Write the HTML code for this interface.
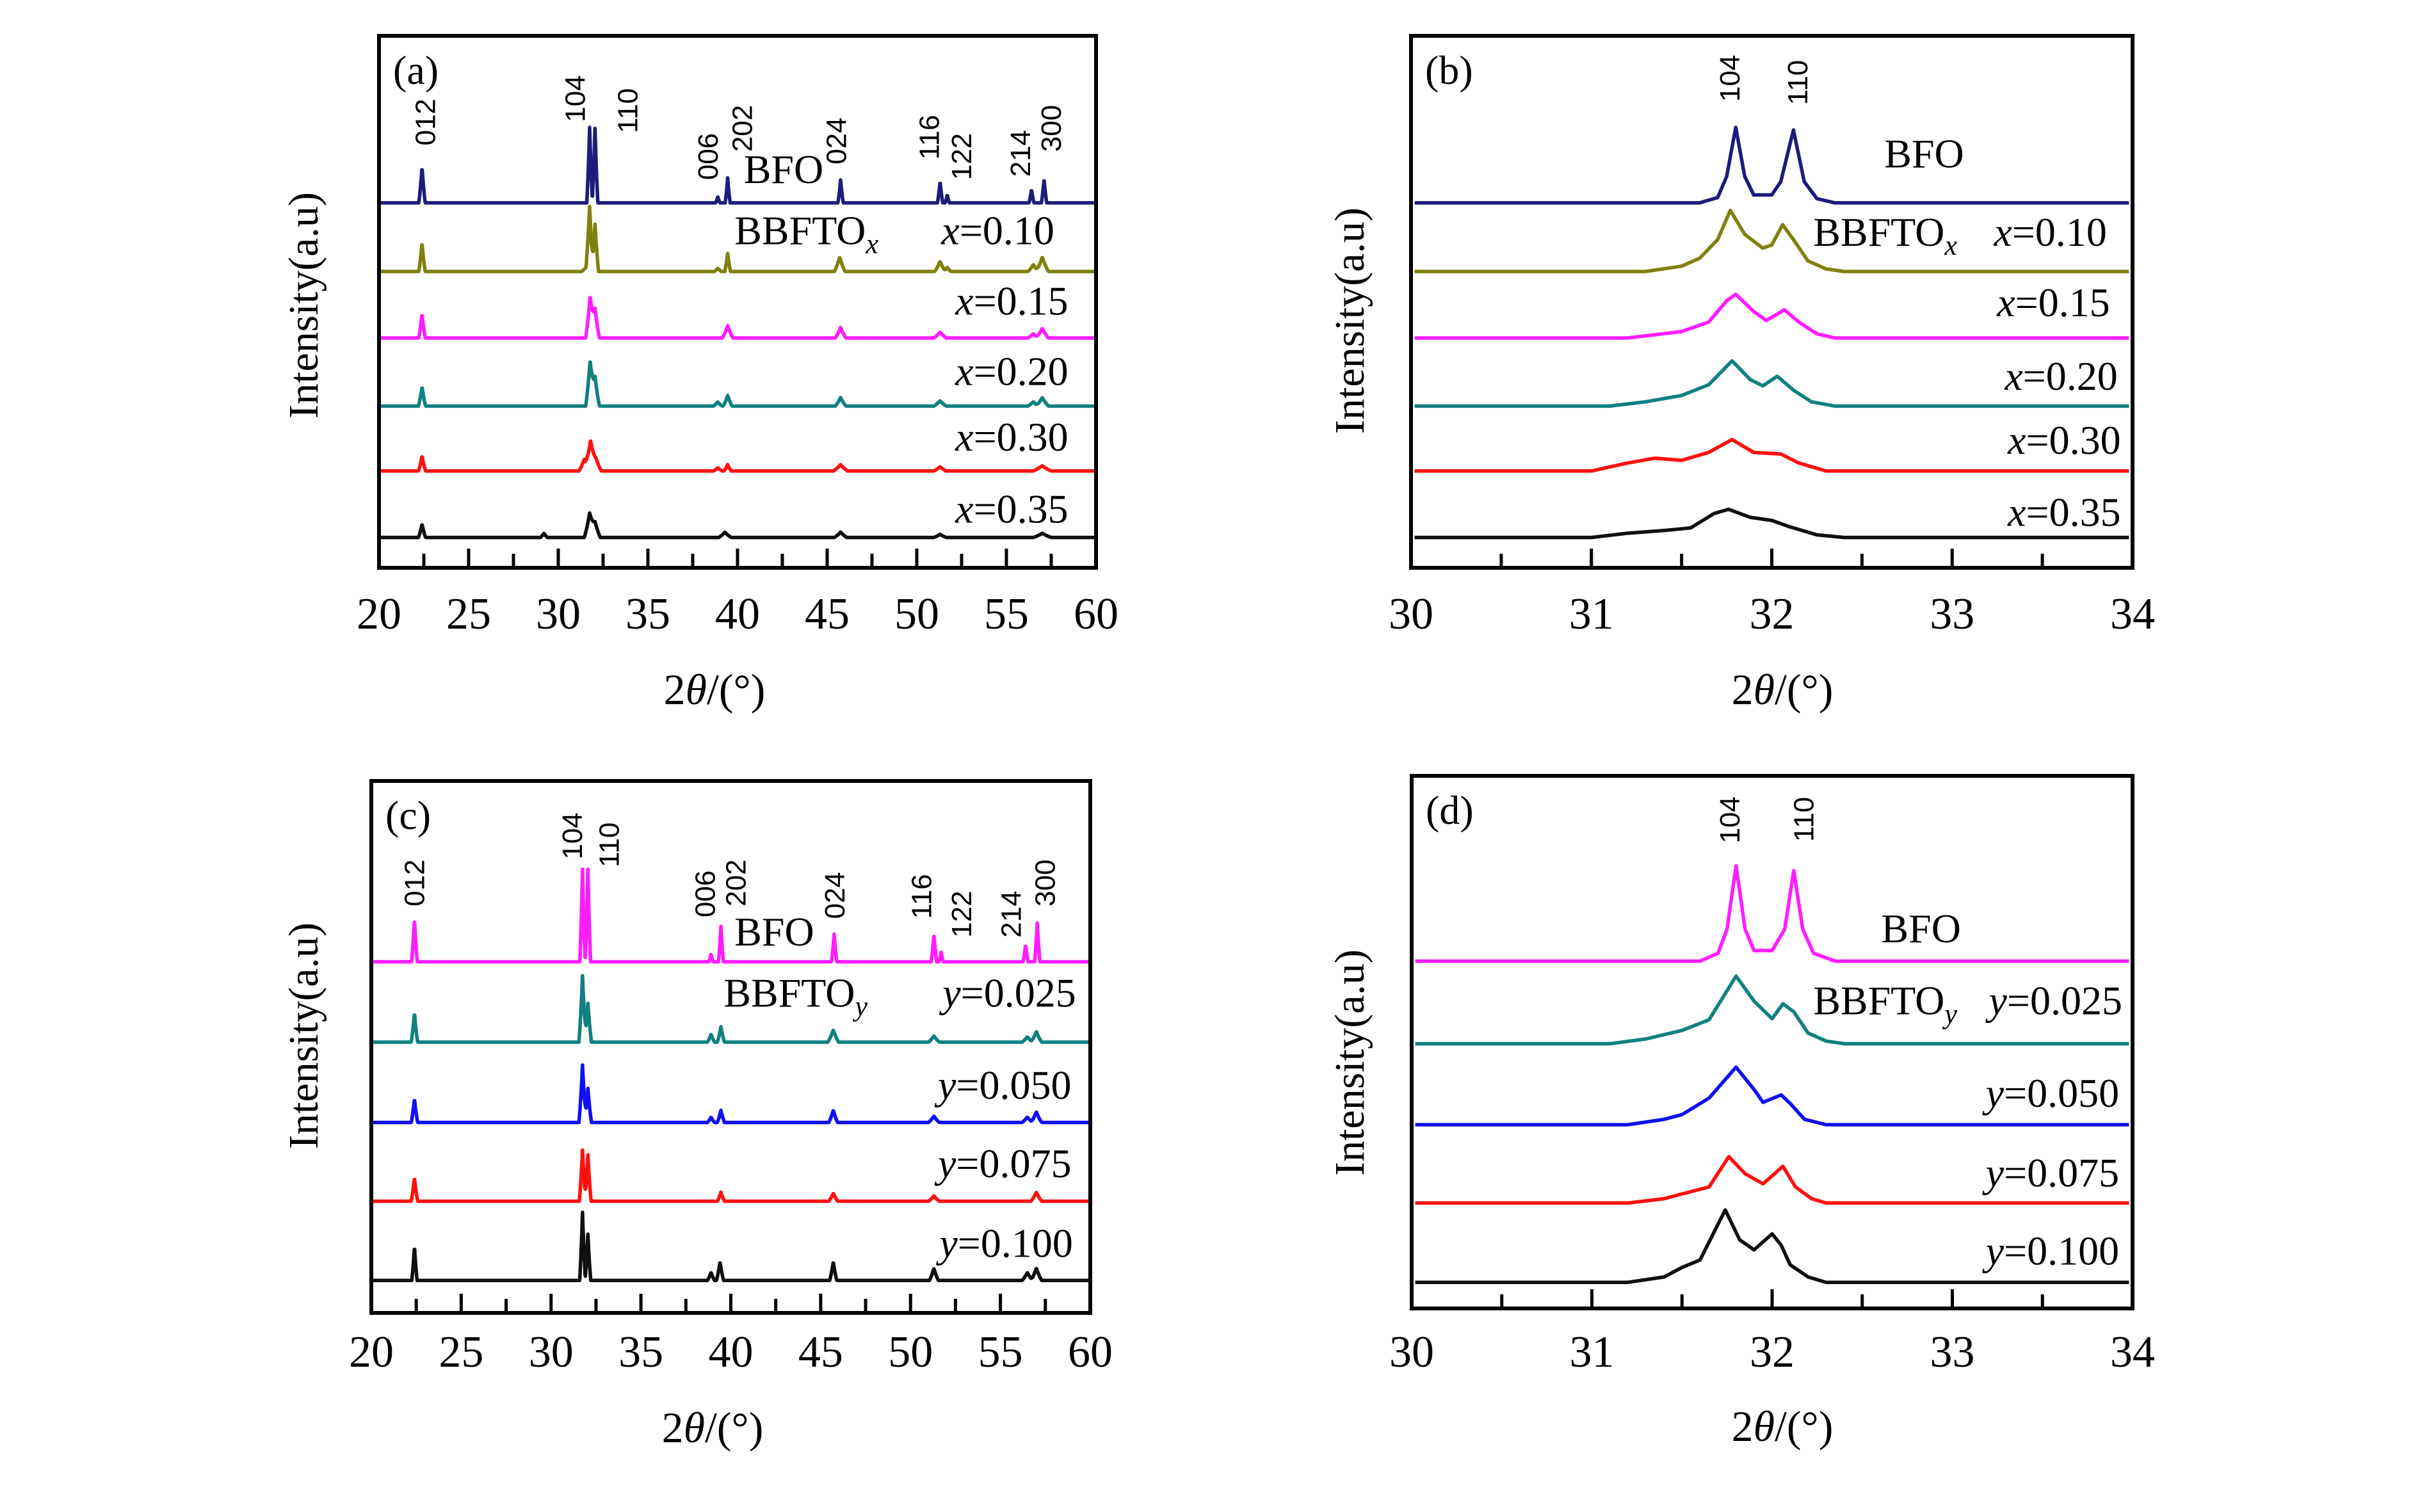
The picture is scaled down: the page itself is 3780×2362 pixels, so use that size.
<!DOCTYPE html>
<html><head><meta charset="utf-8"><style>
html,body{margin:0;padding:0;background:#fff;}
svg{display:block;}
text{font-family:"Liberation Serif",serif;fill:#000;}
.pk{font-family:"Liberation Sans",sans-serif;font-size:44px;}
</style></head><body>
<svg id="fig" width="3780" height="2362" viewBox="0 0 3780 2362" xmlns="http://www.w3.org/2000/svg"></svg>
<script>
// ---------- DATA ----------
const aNames = ["BFO","x=0.10","x=0.15","x=0.20","x=0.30","x=0.35"];
const aBaselines = [68.6,55.7,43.2,30.4,18.2,5.7];
const aColors = ["#1c1c7c","#808010","#ff1cff","#108080","#ff1010","#101010"];
const aBFO = [[22.4,6.7,0.18],[31.75,14.2,0.16],[32.05,14.0,0.16],[38.9,1.2,0.12],[39.45,4.7,0.14],[45.75,4.3,0.15],[51.3,4.0,0.15],[51.7,1.5,0.12],[56.4,2.5,0.14],[57.1,4.5,0.15]];
const aX10 = [[22.4,5.4,0.18],[31.75,11.8,0.2],[32.05,8.9,0.2],[31.6,1.0,0.3],[38.9,0.6,0.2],[39.45,3.4,0.16],[45.7,2.7,0.3],[51.3,1.9,0.3],[51.7,0.8,0.2],[56.5,1.3,0.3],[57.0,2.7,0.35]];
const aX15 = [[22.4,4.5,0.18],[31.78,8.0,0.25],[32.05,5.6,0.25],[39.45,2.3,0.3],[45.75,2.0,0.3],[51.3,1.1,0.35],[56.5,0.8,0.3],[57.0,1.8,0.35]];
const aX20 = [[22.4,3.6,0.2],[31.78,8.7,0.25],[32.05,5.6,0.25],[38.9,0.8,0.25],[39.45,2.0,0.25],[45.75,1.6,0.3],[51.3,1.0,0.35],[56.5,0.8,0.3],[57.0,1.6,0.35]];
const aX30 = [[22.4,2.8,0.2],[31.45,2.2,0.3],[31.8,5.8,0.3],[32.1,2.5,0.3],[38.9,0.6,0.25],[39.45,1.2,0.2],[45.75,1.2,0.4],[51.3,0.8,0.35],[57.0,1.0,0.5]];
const aX35 = [[22.4,2.5,0.2],[29.2,0.8,0.2],[31.75,4.6,0.3],[32.05,3.0,0.3],[39.3,1.0,0.35],[45.75,1.0,0.35],[51.3,0.6,0.35],[57.0,0.8,0.5]];
const aSeries = [aBFO,aX10,aX15,aX20,aX30,aX35];
const cNames = ["BFO","y=0.025","y=0.050","y=0.075","y=0.100"];
const cBaselines = [66.0,50.9,35.8,21.0,6.1];
const cColors = ["#ff1cff","#108080","#1010f0","#ff1010","#101010"];
const cBFO = [[22.4,8.1,0.16],[31.75,17.4,0.15],[32.05,17.4,0.15],[38.9,1.5,0.12],[39.45,6.7,0.14],[45.75,5.2,0.15],[51.3,5.2,0.15],[51.7,2.0,0.12],[56.4,3.2,0.14],[57.05,7.3,0.15]];
const cY025 = [[22.4,5.5,0.18],[31.75,12.5,0.2],[32.05,7.3,0.2],[38.9,1.5,0.2],[39.45,2.9,0.2],[45.7,2.3,0.3],[51.3,1.2,0.3],[56.5,1.0,0.3],[57.0,2.0,0.3]];
const cY050 = [[22.4,4.4,0.18],[31.75,10.8,0.2],[32.05,6.4,0.2],[38.9,1.0,0.2],[39.45,2.3,0.2],[45.7,2.3,0.25],[51.3,1.2,0.3],[56.5,1.0,0.3],[57.0,2.0,0.3]];
const cY075 = [[22.4,4.4,0.18],[31.75,9.6,0.18],[32.05,8.7,0.18],[39.45,1.7,0.2],[45.7,1.5,0.25],[51.3,1.0,0.3],[57.0,1.7,0.3]];
const cY100 = [[22.4,6.4,0.15],[31.75,12.8,0.16],[32.05,8.7,0.16],[38.9,1.5,0.2],[39.4,3.5,0.2],[45.7,3.5,0.2],[51.3,2.3,0.25],[56.5,1.5,0.3],[57.0,2.3,0.3]];
const cSeries = [cBFO,cY025,cY050,cY075,cY100];
const bNames = ["BFO","x=0.10","x=0.15","x=0.20","x=0.30","x=0.35"];
const bBaselines = [68.6,55.7,43.2,30.4,18.2,5.7];
const bBFO = [[30,0],[31.6,0],[31.7,1],[31.75,5],[31.8,14.2],[31.85,5],[31.9,1.5],[32.0,1.5],[32.05,4],[32.12,13.7],[32.18,4],[32.25,0.8],[32.35,0],[34,0]];
const bX10 = [[30,0],[31.3,0],[31.5,1],[31.6,2.5],[31.7,6],[31.77,11.5],[31.85,7],[31.95,4.4],[32.0,5],[32.06,8.8],[32.12,6],[32.2,2],[32.3,0.5],[32.4,0],[34,0]];
const bX15 = [[30,0],[31.2,0],[31.5,1.2],[31.65,3],[31.75,7],[31.8,8.2],[31.9,5],[31.97,3.3],[32.07,5.3],[32.15,3],[32.25,0.8],[32.35,0],[34,0]];
const bX20 = [[30,0],[31.1,0],[31.3,0.8],[31.5,2],[31.65,4],[31.78,8.5],[31.88,5],[31.95,3.8],[32.03,5.6],[32.12,3],[32.22,0.8],[32.35,0],[34,0]];
const bX30 = [[30,0],[31.0,0],[31.2,1.5],[31.35,2.4],[31.5,2],[31.65,3.5],[31.78,5.9],[31.9,3.5],[32.05,3.2],[32.15,1.5],[32.3,0],[34,0]];
const bX35 = [[30,0],[31.0,0],[31.2,0.8],[31.4,1.3],[31.55,1.8],[31.68,4.5],[31.76,5.3],[31.88,3.8],[32.0,3.2],[32.1,2],[32.25,0.5],[32.4,0],[34,0]];
const bSeries = [bBFO,bX10,bX15,bX20,bX30,bX35];
const dNames = ["BFO","y=0.025","y=0.050","y=0.075","y=0.100"];
const dBaselines = [65.2,49.7,34.5,19.8,4.9];
const dBFO = [[30,0],[31.6,0],[31.7,1.5],[31.75,6],[31.8,17.9],[31.85,6],[31.9,2],[32.0,2],[32.07,6],[32.12,17],[32.17,6],[32.23,1.5],[32.35,0],[34,0]];
const dY025 = [[30,0],[31.1,0],[31.3,0.9],[31.5,2.5],[31.65,4.5],[31.8,12.7],[31.9,8],[32.0,4.7],[32.06,7.5],[32.12,6],[32.2,2],[32.3,0.5],[32.4,0],[34,0]];
const dY050 = [[30,0],[31.2,0],[31.4,1],[31.5,1.9],[31.65,5],[31.8,10.8],[31.9,6.6],[31.95,4.2],[32.05,5.6],[32.1,4],[32.18,1],[32.3,0],[34,0]];
const dY075 = [[30,0],[31.2,0],[31.4,0.8],[31.5,1.7],[31.65,3],[31.76,8.7],[31.85,5.5],[31.95,3.6],[32.06,6.9],[32.13,3],[32.22,0.8],[32.3,0],[34,0]];
const dY100 = [[30,0],[31.2,0],[31.4,1],[31.5,2.8],[31.6,4.2],[31.74,13.6],[31.82,8],[31.9,6.1],[32.0,9.1],[32.05,7],[32.1,3.3],[32.2,1],[32.3,0],[34,0]];
const dSeries = [dBFO,dY025,dY050,dY075,dY100];
const wideTicks = ["20","25","30","35","40","45","50","55","60"];
const narrowTicks = ["30","31","32","33","34"];
const peakLabels = ["012","104","110","006","202","024","116","122","214","300"];

// ---------- DRAW ----------
const NS = "http://www.w3.org/2000/svg";
const svg = document.getElementById("fig");
function mk(tag, attrs, parent){
  const e = document.createElementNS(NS, tag);
  for (const k in attrs) e.setAttribute(k, attrs[k]);
  (parent||svg).appendChild(e);
  return e;
}
const mx = x => 2.414*x + 3;
const myT = y => 2.444*y - 12;
const myB = y => 2.444*y - 34;

function panel(cfg){
  const g = mk("g", {});
  
  
  const L=cfg.L,R=cfg.R,T=cfg.T,B=cfg.B;
  const xs = v => L + (v-cfg.xmin)/(cfg.xmax-cfg.xmin)*(R-L);
  const ys = u => B - u/100*(B-T);
  cfg.series.forEach((s,i)=>{
    let pts=[];
    if (cfg.mode==="peaks"){
      for (let x=cfg.xmin+0.05; x<=cfg.xmax-0.05+1e-9; x+=0.02){
        let v=0;
        s.forEach(p=>{const d=Math.abs(x-p[0]); if(d<p[2]) v+=p[1]*(1-d/p[2])*(1-d/p[2]*0.3);});
        pts.push(xs(x).toFixed(1)+","+ys(cfg.baselines[i]+v).toFixed(1));
      }
    } else {
      s.forEach(p=>{ let x=Math.min(Math.max(p[0],cfg.xmin+0.02),cfg.xmax-0.02); pts.push(xs(x).toFixed(1)+","+ys(cfg.baselines[i]+p[1]).toFixed(1));});
    }
    const pl = mk("polyline",{points:pts.join(" "),fill:"none",stroke:cfg.colors[i],"stroke-width":5.5,"stroke-linejoin":"round"},g);
    
    
  });
  const fr = mk("rect",{x:L,y:T,width:R-L,height:B-T,fill:"none",stroke:"#000","stroke-width":6},g);
  
  
  const ticks = cfg.ticks;
  const step = (cfg.xmax-cfg.xmin)/(ticks.length-1);
  for (let k=0;k<ticks.length;k++){
    const v = cfg.xmin + k*step;
    if (k>0 && k<ticks.length-1) mk("line",{x1:xs(v),x2:xs(v),y1:B,y2:B-30,stroke:"#000","stroke-width":5},g);
    if (k<ticks.length-1) mk("line",{x1:xs(v+step/2),x2:xs(v+step/2),y1:B,y2:B-22,stroke:"#000","stroke-width":5},g);
    const t = mk("text",{x:xs(v),y:cfg.tickY+24,"text-anchor":"middle","font-size":70},g);
    t.textContent = ticks[k];
    
    
  }
  const xt = mk("text",{x:cfg.xtX,y:cfg.xtY+24,"text-anchor":"middle","font-size":68},g);
  xt.innerHTML = '2<tspan font-style="italic">θ</tspan>/(°)';
  
  
  const yt = mk("text",{x:0,y:0,"text-anchor":"middle","font-size":66,transform:`translate(${cfg.ytX+22},${cfg.ytY}) rotate(-90)`},g);
  yt.textContent = "Intensity(a.u)";
  
  
  const pt = mk("text",{x:L+22,y:T+75,"font-size":64},g);
  pt.textContent = "("+cfg.id+")";
  
  
  return g;
}
function label(g, x, y, html, anchor, size){
  const t = mk("text",{x:x,y:y,"text-anchor":anchor||"start","font-size":size||64},g);
  t.innerHTML = html;
  
  
}
function peak(g, x, ybot, txt){
  const t = mk("text",{class:"pk",x:0,y:0,transform:`translate(${x+15},${ybot}) rotate(-90)`},g);
  t.textContent = txt;
  
  
}
const ix = s => '<tspan font-style="italic">'+s+'</tspan>';
const sub = s => '<tspan font-style="italic" font-size="44" dy="14">'+s+'</tspan>';

const ga = panel({id:"a",L:592,R:1712,T:56,B:887,xmin:20,xmax:60,ticks:wideTicks,mode:"peaks",series:aSeries,baselines:aBaselines,colors:aColors,names:aNames,tickY:958,xtX:1116,xtY:1076,ytX:474,ytY:477});
[[274,98],[371,83],[405,90],[457,120],[479,102],[540,110],[600,107],[621,120],[659,118],[679,102]].forEach((p,i)=>peak(ga,mx(p[0]),myT(p[1]),peakLabels[i]));
label(ga,mx(480),myT(113)+22,"BFO");
label(ga,mx(474),myT(152)+22,"BBFTO"+sub("x"));
label(ga,mx(681),myT(152)+22,ix("x")+"=0.10","end");
label(ga,mx(690),myT(197)+22,ix("x")+"=0.15","end");
label(ga,mx(690),myT(242)+22,ix("x")+"=0.20","end");
label(ga,mx(690),myT(284)+22,ix("x")+"=0.30","end");
label(ga,mx(690),myT(330)+22,ix("x")+"=0.35","end");
const gb = panel({id:"b",L:2204,R:3331,T:56,B:887,xmin:30,xmax:34,ticks:narrowTicks,mode:"pts",series:bSeries,baselines:bBaselines,colors:aColors,names:bNames,tickY:958,xtX:2784,xtY:1076,ytX:2108,ytY:501});
peak(gb,mx(1118),myT(70),"104"); peak(gb,mx(1162),myT(72),"110");
label(gb,mx(1218),myT(103)+22,"BFO");
label(gb,mx(1172),myT(153)+22,"BBFTO"+sub("x"));
label(gb,mx(1362),myT(153)+22,ix("x")+"=0.10","end");
label(gb,mx(1364),myT(198)+22,ix("x")+"=0.15","end");
label(gb,mx(1369),myT(245)+22,ix("x")+"=0.20","end");
label(gb,mx(1371),myT(286)+22,ix("x")+"=0.30","end");
label(gb,mx(1371),myT(332)+22,ix("x")+"=0.35","end");
const gc = panel({id:"c",L:580,R:1703,T:1220,B:2051,xmin:20,xmax:60,ticks:wideTicks,mode:"peaks",series:cSeries,baselines:cBaselines,colors:cColors,names:cNames,tickY:2111,xtX:1113,xtY:2229,ytX:474,ytY:1618});
[[267,590],[369,560],[393,565],[455,597],[475,590],[539,598],[595,598],[621,610],[653,610],[675,590]].forEach((p,i)=>peak(gc,mx(p[0]),myB(p[1])+8,peakLabels[i]));
label(gc,mx(474),myB(606)+30,"BFO");
label(gc,mx(467),myB(645)+30,"BBFTO"+sub("y"));
label(gc,mx(695),myB(645)+30,ix("y")+"=0.025","end");
label(gc,mx(692),myB(704)+30,ix("y")+"=0.050","end");
label(gc,mx(692),myB(754)+30,ix("y")+"=0.075","end");
label(gc,mx(693),myB(805)+30,ix("y")+"=0.100","end");
const gd = panel({id:"d",L:2205,R:3331,T:1212,B:2044,xmin:30,xmax:34,ticks:narrowTicks,mode:"pts",series:dSeries,baselines:dBaselines,colors:cColors,names:dNames,tickY:2111,xtX:2784,xtY:2227,ytX:2108,ytY:1660});
peak(gd,mx(1118),myB(553),"104"); peak(gd,mx(1166),myB(552),"110");
label(gd,mx(1216),myB(604)+30,"BFO");
label(gd,mx(1172),myB(650)+30,"BBFTO"+sub("y"));
label(gd,mx(1372),myB(650)+30,ix("y")+"=0.025","end");
label(gd,mx(1370),myB(709)+30,ix("y")+"=0.050","end");
label(gd,mx(1370),myB(760)+30,ix("y")+"=0.075","end");
label(gd,mx(1370),myB(810)+30,ix("y")+"=0.100","end");
</script>
</body></html>
